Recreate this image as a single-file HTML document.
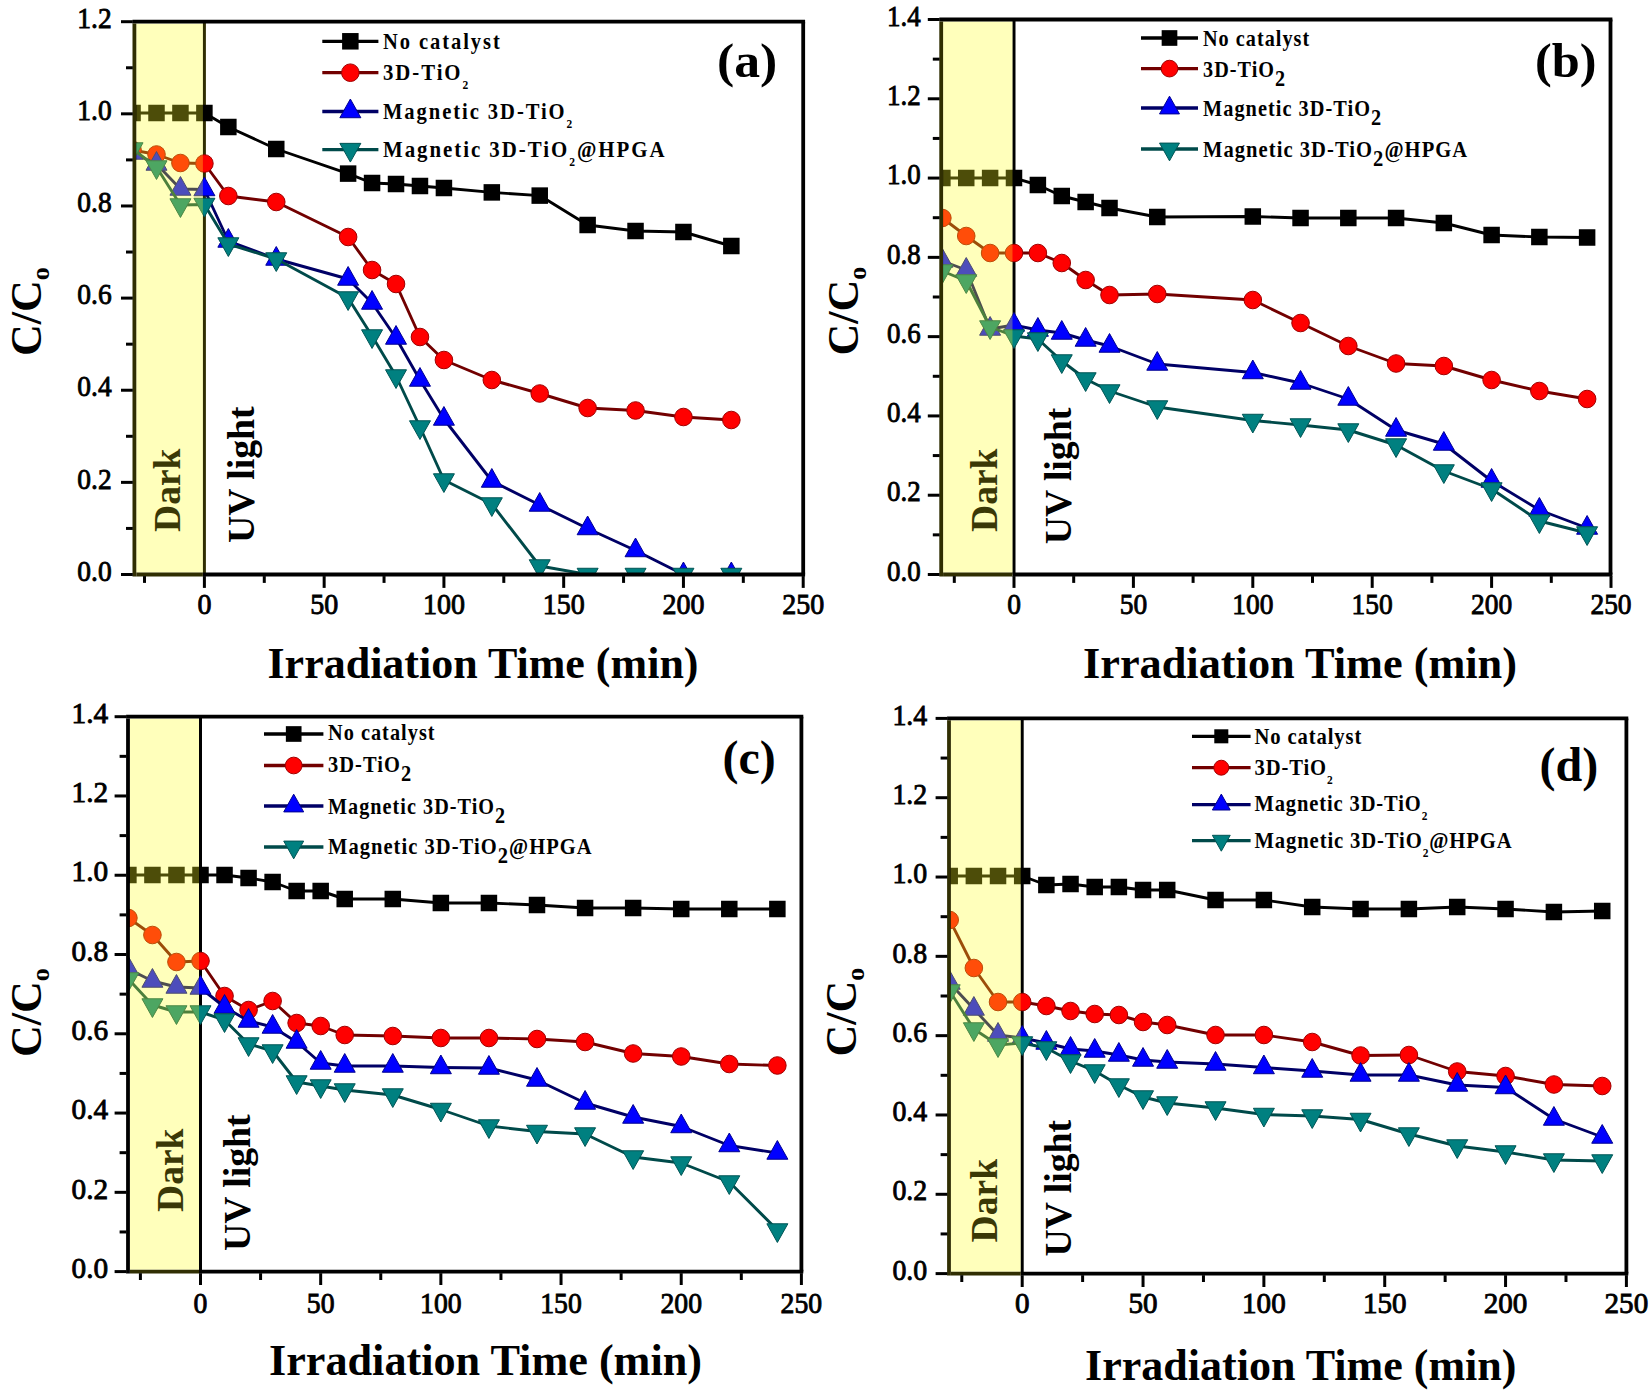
<!DOCTYPE html>
<html><head><meta charset="utf-8"><title>Photocatalytic degradation C/C0 vs irradiation time</title>
<style>html,body{margin:0;padding:0;background:#fff;}svg{display:block;}</style>
</head><body>
<svg width="1650" height="1394" viewBox="0 0 1650 1394">
<rect width="1650" height="1394" fill="#fff"/>
<clipPath id="clipa"><rect x="134.4" y="21.7" width="668.8" height="552.8"/></clipPath>
<line x1="204.4" y1="21.7" x2="204.4" y2="574.5" stroke="rgb(48,46,2)" stroke-width="3"/>
<g clip-path="url(#clipa)">
<polyline points="132.54,113 156.5,113 180.45,113 204.4,113 228.35,127 276.26,149 348.11,173.6 372.06,183 396.02,184 419.97,186 443.92,188 491.82,192.4 539.73,195.6 587.63,225 635.54,231 683.44,232 731.34,246" fill="none" stroke="#000000" stroke-width="2.9" stroke-linejoin="round"/>
<rect x="124.29" y="104.75" width="16.5" height="16.5" fill="#000000"/>
<rect x="148.25" y="104.75" width="16.5" height="16.5" fill="#000000"/>
<rect x="172.2" y="104.75" width="16.5" height="16.5" fill="#000000"/>
<rect x="196.15" y="104.75" width="16.5" height="16.5" fill="#000000"/>
<rect x="220.1" y="118.75" width="16.5" height="16.5" fill="#000000"/>
<rect x="268.01" y="140.75" width="16.5" height="16.5" fill="#000000"/>
<rect x="339.86" y="165.35" width="16.5" height="16.5" fill="#000000"/>
<rect x="363.81" y="174.75" width="16.5" height="16.5" fill="#000000"/>
<rect x="387.77" y="175.75" width="16.5" height="16.5" fill="#000000"/>
<rect x="411.72" y="177.75" width="16.5" height="16.5" fill="#000000"/>
<rect x="435.67" y="179.75" width="16.5" height="16.5" fill="#000000"/>
<rect x="483.57" y="184.15" width="16.5" height="16.5" fill="#000000"/>
<rect x="531.48" y="187.35" width="16.5" height="16.5" fill="#000000"/>
<rect x="579.38" y="216.75" width="16.5" height="16.5" fill="#000000"/>
<rect x="627.29" y="222.75" width="16.5" height="16.5" fill="#000000"/>
<rect x="675.19" y="223.75" width="16.5" height="16.5" fill="#000000"/>
<rect x="723.09" y="237.75" width="16.5" height="16.5" fill="#000000"/>
<polyline points="132.54,150 156.5,154.5 180.45,163 204.4,163.5 228.35,196 276.26,202 348.11,237 372.06,270 396.02,284 419.97,337 443.92,360 491.82,380 539.73,393.5 587.63,408 635.54,410.5 683.44,417 731.34,420" fill="none" stroke="#720000" stroke-width="2.9" stroke-linejoin="round"/>
<circle cx="132.54" cy="150" r="8.8" fill="#ff0000" stroke="#a00000" stroke-width="1"/>
<circle cx="156.5" cy="154.5" r="8.8" fill="#ff0000" stroke="#a00000" stroke-width="1"/>
<circle cx="180.45" cy="163" r="8.8" fill="#ff0000" stroke="#a00000" stroke-width="1"/>
<circle cx="204.4" cy="163.5" r="8.8" fill="#ff0000" stroke="#a00000" stroke-width="1"/>
<circle cx="228.35" cy="196" r="8.8" fill="#ff0000" stroke="#a00000" stroke-width="1"/>
<circle cx="276.26" cy="202" r="8.8" fill="#ff0000" stroke="#a00000" stroke-width="1"/>
<circle cx="348.11" cy="237" r="8.8" fill="#ff0000" stroke="#a00000" stroke-width="1"/>
<circle cx="372.06" cy="270" r="8.8" fill="#ff0000" stroke="#a00000" stroke-width="1"/>
<circle cx="396.02" cy="284" r="8.8" fill="#ff0000" stroke="#a00000" stroke-width="1"/>
<circle cx="419.97" cy="337" r="8.8" fill="#ff0000" stroke="#a00000" stroke-width="1"/>
<circle cx="443.92" cy="360" r="8.8" fill="#ff0000" stroke="#a00000" stroke-width="1"/>
<circle cx="491.82" cy="380" r="8.8" fill="#ff0000" stroke="#a00000" stroke-width="1"/>
<circle cx="539.73" cy="393.5" r="8.8" fill="#ff0000" stroke="#a00000" stroke-width="1"/>
<circle cx="587.63" cy="408" r="8.8" fill="#ff0000" stroke="#a00000" stroke-width="1"/>
<circle cx="635.54" cy="410.5" r="8.8" fill="#ff0000" stroke="#a00000" stroke-width="1"/>
<circle cx="683.44" cy="417" r="8.8" fill="#ff0000" stroke="#a00000" stroke-width="1"/>
<circle cx="731.34" cy="420" r="8.8" fill="#ff0000" stroke="#a00000" stroke-width="1"/>
<polyline points="132.54,153 156.5,164 180.45,189 204.4,189.5 228.35,241 276.26,259 348.11,279 372.06,303 396.02,338 419.97,380 443.92,419 491.82,481 539.73,505 587.63,528.5 635.54,550.5 683.44,574.5 731.34,574.5" fill="none" stroke="#000066" stroke-width="2.9" stroke-linejoin="round"/>
<polygon points="132.54,140.53 143.04,159.23 122.04,159.23" fill="#0000ff" stroke="#000090" stroke-width="1"/>
<polygon points="156.5,151.53 167,170.23 146,170.23" fill="#0000ff" stroke="#000090" stroke-width="1"/>
<polygon points="180.45,176.53 190.95,195.23 169.95,195.23" fill="#0000ff" stroke="#000090" stroke-width="1"/>
<polygon points="204.4,177.03 214.9,195.73 193.9,195.73" fill="#0000ff" stroke="#000090" stroke-width="1"/>
<polygon points="228.35,228.53 238.85,247.23 217.85,247.23" fill="#0000ff" stroke="#000090" stroke-width="1"/>
<polygon points="276.26,246.53 286.76,265.23 265.76,265.23" fill="#0000ff" stroke="#000090" stroke-width="1"/>
<polygon points="348.11,266.53 358.61,285.23 337.61,285.23" fill="#0000ff" stroke="#000090" stroke-width="1"/>
<polygon points="372.06,290.53 382.56,309.23 361.56,309.23" fill="#0000ff" stroke="#000090" stroke-width="1"/>
<polygon points="396.02,325.53 406.52,344.23 385.52,344.23" fill="#0000ff" stroke="#000090" stroke-width="1"/>
<polygon points="419.97,367.53 430.47,386.23 409.47,386.23" fill="#0000ff" stroke="#000090" stroke-width="1"/>
<polygon points="443.92,406.53 454.42,425.23 433.42,425.23" fill="#0000ff" stroke="#000090" stroke-width="1"/>
<polygon points="491.82,468.53 502.32,487.23 481.32,487.23" fill="#0000ff" stroke="#000090" stroke-width="1"/>
<polygon points="539.73,492.53 550.23,511.23 529.23,511.23" fill="#0000ff" stroke="#000090" stroke-width="1"/>
<polygon points="587.63,516.03 598.13,534.73 577.13,534.73" fill="#0000ff" stroke="#000090" stroke-width="1"/>
<polygon points="635.54,538.03 646.04,556.73 625.04,556.73" fill="#0000ff" stroke="#000090" stroke-width="1"/>
<polygon points="683.44,562.03 693.94,580.73 672.94,580.73" fill="#0000ff" stroke="#000090" stroke-width="1"/>
<polygon points="731.34,562.03 741.84,580.73 720.84,580.73" fill="#0000ff" stroke="#000090" stroke-width="1"/>
<polyline points="132.54,149 156.5,167 180.45,205 204.4,204.5 228.35,244 276.26,259 348.11,298 372.06,336 396.02,376 419.97,427 443.92,480 491.82,504 539.73,566 587.63,574.5 635.54,574.5 683.44,574.5 731.34,574.5" fill="none" stroke="#004a4a" stroke-width="2.9" stroke-linejoin="round"/>
<polygon points="122.04,142.77 143.04,142.77 132.54,161.47" fill="#008080" stroke="#005555" stroke-width="1"/>
<polygon points="146,160.77 167,160.77 156.5,179.47" fill="#008080" stroke="#005555" stroke-width="1"/>
<polygon points="169.95,198.77 190.95,198.77 180.45,217.47" fill="#008080" stroke="#005555" stroke-width="1"/>
<polygon points="193.9,198.27 214.9,198.27 204.4,216.97" fill="#008080" stroke="#005555" stroke-width="1"/>
<polygon points="217.85,237.77 238.85,237.77 228.35,256.47" fill="#008080" stroke="#005555" stroke-width="1"/>
<polygon points="265.76,252.77 286.76,252.77 276.26,271.47" fill="#008080" stroke="#005555" stroke-width="1"/>
<polygon points="337.61,291.77 358.61,291.77 348.11,310.47" fill="#008080" stroke="#005555" stroke-width="1"/>
<polygon points="361.56,329.77 382.56,329.77 372.06,348.47" fill="#008080" stroke="#005555" stroke-width="1"/>
<polygon points="385.52,369.77 406.52,369.77 396.02,388.47" fill="#008080" stroke="#005555" stroke-width="1"/>
<polygon points="409.47,420.77 430.47,420.77 419.97,439.47" fill="#008080" stroke="#005555" stroke-width="1"/>
<polygon points="433.42,473.77 454.42,473.77 443.92,492.47" fill="#008080" stroke="#005555" stroke-width="1"/>
<polygon points="481.32,497.77 502.32,497.77 491.82,516.47" fill="#008080" stroke="#005555" stroke-width="1"/>
<polygon points="529.23,559.77 550.23,559.77 539.73,578.47" fill="#008080" stroke="#005555" stroke-width="1"/>
<polygon points="577.13,568.27 598.13,568.27 587.63,586.97" fill="#008080" stroke="#005555" stroke-width="1"/>
<polygon points="625.04,568.27 646.04,568.27 635.54,586.97" fill="#008080" stroke="#005555" stroke-width="1"/>
<polygon points="672.94,568.27 693.94,568.27 683.44,586.97" fill="#008080" stroke="#005555" stroke-width="1"/>
<polygon points="720.84,568.27 741.84,568.27 731.34,586.97" fill="#008080" stroke="#005555" stroke-width="1"/>
</g>
<rect x="136.3" y="23.6" width="66.6" height="549" fill="rgb(255,255,30)" fill-opacity="0.30"/>
<g stroke-width="3.8">
<line x1="132.5" y1="21.7" x2="805.1" y2="21.7" stroke="#000"/>
<line x1="803.2" y1="21.7" x2="803.2" y2="574.5" stroke="#000"/>
<line x1="202.9" y1="574.5" x2="805.1" y2="574.5" stroke="#000"/>
<line x1="136.3" y1="574.5" x2="202.9" y2="574.5" stroke="rgb(48,46,2)"/>
<line x1="134.4" y1="23.6" x2="134.4" y2="576.4" stroke="rgb(48,46,2)"/>
</g>
<text transform="translate(180,532) rotate(-90)" font-family='"Liberation Serif", "Times New Roman", serif' font-weight="bold" font-size="38" fill="rgb(58,56,6)" textLength="83.5" lengthAdjust="spacingAndGlyphs">Dark</text>
<g stroke="#000" stroke-width="3.0"><line x1="121" y1="574.5" x2="132.8" y2="574.5"/><line x1="126" y1="528.43" x2="132.8" y2="528.43"/><line x1="121" y1="482.37" x2="132.8" y2="482.37"/><line x1="126" y1="436.3" x2="132.8" y2="436.3"/><line x1="121" y1="390.23" x2="132.8" y2="390.23"/><line x1="126" y1="344.17" x2="132.8" y2="344.17"/><line x1="121" y1="298.1" x2="132.8" y2="298.1"/><line x1="126" y1="252.03" x2="132.8" y2="252.03"/><line x1="121" y1="205.97" x2="132.8" y2="205.97"/><line x1="126" y1="159.9" x2="132.8" y2="159.9"/><line x1="121" y1="113.83" x2="132.8" y2="113.83"/><line x1="126" y1="67.77" x2="132.8" y2="67.77"/><line x1="121" y1="21.7" x2="132.8" y2="21.7"/><line x1="144.52" y1="576.1" x2="144.52" y2="582.9"/><line x1="204.4" y1="576.1" x2="204.4" y2="587.9"/><line x1="264.28" y1="576.1" x2="264.28" y2="582.9"/><line x1="324.16" y1="576.1" x2="324.16" y2="587.9"/><line x1="384.04" y1="576.1" x2="384.04" y2="582.9"/><line x1="443.92" y1="576.1" x2="443.92" y2="587.9"/><line x1="503.8" y1="576.1" x2="503.8" y2="582.9"/><line x1="563.68" y1="576.1" x2="563.68" y2="587.9"/><line x1="623.56" y1="576.1" x2="623.56" y2="582.9"/><line x1="683.44" y1="576.1" x2="683.44" y2="587.9"/><line x1="743.32" y1="576.1" x2="743.32" y2="582.9"/><line x1="803.2" y1="576.1" x2="803.2" y2="587.9"/></g>
<g font-family='"Liberation Serif", "Times New Roman", serif' font-size="30" fill="#000" stroke="#000" stroke-width="0.9"><text x="111.6" y="580.7" text-anchor="end" textLength="34.3" lengthAdjust="spacingAndGlyphs">0.0</text><text x="111.6" y="488.57" text-anchor="end" textLength="34.3" lengthAdjust="spacingAndGlyphs">0.2</text><text x="111.6" y="396.43" text-anchor="end" textLength="34.3" lengthAdjust="spacingAndGlyphs">0.4</text><text x="111.6" y="304.3" text-anchor="end" textLength="34.3" lengthAdjust="spacingAndGlyphs">0.6</text><text x="111.6" y="212.17" text-anchor="end" textLength="34.3" lengthAdjust="spacingAndGlyphs">0.8</text><text x="111.6" y="120.03" text-anchor="end" textLength="34.3" lengthAdjust="spacingAndGlyphs">1.0</text><text x="111.6" y="27.9" text-anchor="end" textLength="34.3" lengthAdjust="spacingAndGlyphs">1.2</text><text x="204.4" y="613.8" text-anchor="middle" textLength="14" lengthAdjust="spacingAndGlyphs">0</text><text x="324.16" y="613.8" text-anchor="middle" textLength="28" lengthAdjust="spacingAndGlyphs">50</text><text x="443.92" y="613.8" text-anchor="middle" textLength="42" lengthAdjust="spacingAndGlyphs">100</text><text x="563.68" y="613.8" text-anchor="middle" textLength="42" lengthAdjust="spacingAndGlyphs">150</text><text x="683.44" y="613.8" text-anchor="middle" textLength="42" lengthAdjust="spacingAndGlyphs">200</text><text x="803.2" y="613.8" text-anchor="middle" textLength="42" lengthAdjust="spacingAndGlyphs">250</text></g>
<clipPath id="clipb"><rect x="941.2" y="19.5" width="669.3" height="555"/></clipPath>
<line x1="1014" y1="19.5" x2="1014" y2="574.5" stroke="#000" stroke-width="3"/>
<g clip-path="url(#clipb)">
<polyline points="942.36,178 966.24,178 990.12,178 1014,178 1037.88,185 1061.76,196 1085.64,202 1109.52,208 1157.28,217 1252.8,216.5 1300.56,218 1348.32,218 1396.08,218 1443.84,223 1491.6,235 1539.36,237 1587.12,237.5" fill="none" stroke="#000000" stroke-width="2.9" stroke-linejoin="round"/>
<rect x="934.11" y="169.75" width="16.5" height="16.5" fill="#000000"/>
<rect x="957.99" y="169.75" width="16.5" height="16.5" fill="#000000"/>
<rect x="981.87" y="169.75" width="16.5" height="16.5" fill="#000000"/>
<rect x="1005.75" y="169.75" width="16.5" height="16.5" fill="#000000"/>
<rect x="1029.63" y="176.75" width="16.5" height="16.5" fill="#000000"/>
<rect x="1053.51" y="187.75" width="16.5" height="16.5" fill="#000000"/>
<rect x="1077.39" y="193.75" width="16.5" height="16.5" fill="#000000"/>
<rect x="1101.27" y="199.75" width="16.5" height="16.5" fill="#000000"/>
<rect x="1149.03" y="208.75" width="16.5" height="16.5" fill="#000000"/>
<rect x="1244.55" y="208.25" width="16.5" height="16.5" fill="#000000"/>
<rect x="1292.31" y="209.75" width="16.5" height="16.5" fill="#000000"/>
<rect x="1340.07" y="209.75" width="16.5" height="16.5" fill="#000000"/>
<rect x="1387.83" y="209.75" width="16.5" height="16.5" fill="#000000"/>
<rect x="1435.59" y="214.75" width="16.5" height="16.5" fill="#000000"/>
<rect x="1483.35" y="226.75" width="16.5" height="16.5" fill="#000000"/>
<rect x="1531.11" y="228.75" width="16.5" height="16.5" fill="#000000"/>
<rect x="1578.87" y="229.25" width="16.5" height="16.5" fill="#000000"/>
<polyline points="942.36,218 966.24,236 990.12,253 1014,253 1037.88,253 1061.76,263 1085.64,280 1109.52,295 1157.28,294 1252.8,300 1300.56,323 1348.32,346 1396.08,363.5 1443.84,366 1491.6,380 1539.36,391 1587.12,399" fill="none" stroke="#720000" stroke-width="2.9" stroke-linejoin="round"/>
<circle cx="942.36" cy="218" r="8.8" fill="#ff0000" stroke="#a00000" stroke-width="1"/>
<circle cx="966.24" cy="236" r="8.8" fill="#ff0000" stroke="#a00000" stroke-width="1"/>
<circle cx="990.12" cy="253" r="8.8" fill="#ff0000" stroke="#a00000" stroke-width="1"/>
<circle cx="1014" cy="253" r="8.8" fill="#ff0000" stroke="#a00000" stroke-width="1"/>
<circle cx="1037.88" cy="253" r="8.8" fill="#ff0000" stroke="#a00000" stroke-width="1"/>
<circle cx="1061.76" cy="263" r="8.8" fill="#ff0000" stroke="#a00000" stroke-width="1"/>
<circle cx="1085.64" cy="280" r="8.8" fill="#ff0000" stroke="#a00000" stroke-width="1"/>
<circle cx="1109.52" cy="295" r="8.8" fill="#ff0000" stroke="#a00000" stroke-width="1"/>
<circle cx="1157.28" cy="294" r="8.8" fill="#ff0000" stroke="#a00000" stroke-width="1"/>
<circle cx="1252.8" cy="300" r="8.8" fill="#ff0000" stroke="#a00000" stroke-width="1"/>
<circle cx="1300.56" cy="323" r="8.8" fill="#ff0000" stroke="#a00000" stroke-width="1"/>
<circle cx="1348.32" cy="346" r="8.8" fill="#ff0000" stroke="#a00000" stroke-width="1"/>
<circle cx="1396.08" cy="363.5" r="8.8" fill="#ff0000" stroke="#a00000" stroke-width="1"/>
<circle cx="1443.84" cy="366" r="8.8" fill="#ff0000" stroke="#a00000" stroke-width="1"/>
<circle cx="1491.6" cy="380" r="8.8" fill="#ff0000" stroke="#a00000" stroke-width="1"/>
<circle cx="1539.36" cy="391" r="8.8" fill="#ff0000" stroke="#a00000" stroke-width="1"/>
<circle cx="1587.12" cy="399" r="8.8" fill="#ff0000" stroke="#a00000" stroke-width="1"/>
<polyline points="942.36,261 966.24,270 990.12,329 1014,325 1037.88,330 1061.76,333 1085.64,340 1109.52,346 1157.28,364 1252.8,372.5 1300.56,383 1348.32,399 1396.08,430 1443.84,444 1491.6,481 1539.36,510 1587.12,528" fill="none" stroke="#000066" stroke-width="2.9" stroke-linejoin="round"/>
<polygon points="942.36,248.53 952.86,267.23 931.86,267.23" fill="#0000ff" stroke="#000090" stroke-width="1"/>
<polygon points="966.24,257.53 976.74,276.23 955.74,276.23" fill="#0000ff" stroke="#000090" stroke-width="1"/>
<polygon points="990.12,316.53 1000.62,335.23 979.62,335.23" fill="#0000ff" stroke="#000090" stroke-width="1"/>
<polygon points="1014,312.53 1024.5,331.23 1003.5,331.23" fill="#0000ff" stroke="#000090" stroke-width="1"/>
<polygon points="1037.88,317.53 1048.38,336.23 1027.38,336.23" fill="#0000ff" stroke="#000090" stroke-width="1"/>
<polygon points="1061.76,320.53 1072.26,339.23 1051.26,339.23" fill="#0000ff" stroke="#000090" stroke-width="1"/>
<polygon points="1085.64,327.53 1096.14,346.23 1075.14,346.23" fill="#0000ff" stroke="#000090" stroke-width="1"/>
<polygon points="1109.52,333.53 1120.02,352.23 1099.02,352.23" fill="#0000ff" stroke="#000090" stroke-width="1"/>
<polygon points="1157.28,351.53 1167.78,370.23 1146.78,370.23" fill="#0000ff" stroke="#000090" stroke-width="1"/>
<polygon points="1252.8,360.03 1263.3,378.73 1242.3,378.73" fill="#0000ff" stroke="#000090" stroke-width="1"/>
<polygon points="1300.56,370.53 1311.06,389.23 1290.06,389.23" fill="#0000ff" stroke="#000090" stroke-width="1"/>
<polygon points="1348.32,386.53 1358.82,405.23 1337.82,405.23" fill="#0000ff" stroke="#000090" stroke-width="1"/>
<polygon points="1396.08,417.53 1406.58,436.23 1385.58,436.23" fill="#0000ff" stroke="#000090" stroke-width="1"/>
<polygon points="1443.84,431.53 1454.34,450.23 1433.34,450.23" fill="#0000ff" stroke="#000090" stroke-width="1"/>
<polygon points="1491.6,468.53 1502.1,487.23 1481.1,487.23" fill="#0000ff" stroke="#000090" stroke-width="1"/>
<polygon points="1539.36,497.53 1549.86,516.23 1528.86,516.23" fill="#0000ff" stroke="#000090" stroke-width="1"/>
<polygon points="1587.12,515.53 1597.62,534.23 1576.62,534.23" fill="#0000ff" stroke="#000090" stroke-width="1"/>
<polyline points="942.36,271 966.24,281 990.12,327 1014,336 1037.88,339 1061.76,361 1085.64,379 1109.52,391 1157.28,407 1252.8,420.5 1300.56,425 1348.32,430 1396.08,445 1443.84,471 1491.6,489 1539.36,521 1587.12,533" fill="none" stroke="#004a4a" stroke-width="2.9" stroke-linejoin="round"/>
<polygon points="931.86,264.77 952.86,264.77 942.36,283.47" fill="#008080" stroke="#005555" stroke-width="1"/>
<polygon points="955.74,274.77 976.74,274.77 966.24,293.47" fill="#008080" stroke="#005555" stroke-width="1"/>
<polygon points="979.62,320.77 1000.62,320.77 990.12,339.47" fill="#008080" stroke="#005555" stroke-width="1"/>
<polygon points="1003.5,329.77 1024.5,329.77 1014,348.47" fill="#008080" stroke="#005555" stroke-width="1"/>
<polygon points="1027.38,332.77 1048.38,332.77 1037.88,351.47" fill="#008080" stroke="#005555" stroke-width="1"/>
<polygon points="1051.26,354.77 1072.26,354.77 1061.76,373.47" fill="#008080" stroke="#005555" stroke-width="1"/>
<polygon points="1075.14,372.77 1096.14,372.77 1085.64,391.47" fill="#008080" stroke="#005555" stroke-width="1"/>
<polygon points="1099.02,384.77 1120.02,384.77 1109.52,403.47" fill="#008080" stroke="#005555" stroke-width="1"/>
<polygon points="1146.78,400.77 1167.78,400.77 1157.28,419.47" fill="#008080" stroke="#005555" stroke-width="1"/>
<polygon points="1242.3,414.27 1263.3,414.27 1252.8,432.97" fill="#008080" stroke="#005555" stroke-width="1"/>
<polygon points="1290.06,418.77 1311.06,418.77 1300.56,437.47" fill="#008080" stroke="#005555" stroke-width="1"/>
<polygon points="1337.82,423.77 1358.82,423.77 1348.32,442.47" fill="#008080" stroke="#005555" stroke-width="1"/>
<polygon points="1385.58,438.77 1406.58,438.77 1396.08,457.47" fill="#008080" stroke="#005555" stroke-width="1"/>
<polygon points="1433.34,464.77 1454.34,464.77 1443.84,483.47" fill="#008080" stroke="#005555" stroke-width="1"/>
<polygon points="1481.1,482.77 1502.1,482.77 1491.6,501.47" fill="#008080" stroke="#005555" stroke-width="1"/>
<polygon points="1528.86,514.77 1549.86,514.77 1539.36,533.47" fill="#008080" stroke="#005555" stroke-width="1"/>
<polygon points="1576.62,526.77 1597.62,526.77 1587.12,545.47" fill="#008080" stroke="#005555" stroke-width="1"/>
</g>
<rect x="943.1" y="21.4" width="69.4" height="551.2" fill="rgb(255,255,30)" fill-opacity="0.30"/>
<g stroke-width="3.8">
<line x1="939.3" y1="19.5" x2="1612.4" y2="19.5" stroke="#000"/>
<line x1="1610.5" y1="19.5" x2="1610.5" y2="574.5" stroke="#000"/>
<line x1="1012.5" y1="574.5" x2="1612.4" y2="574.5" stroke="#000"/>
<line x1="943.1" y1="574.5" x2="1012.5" y2="574.5" stroke="rgb(48,46,2)"/>
<line x1="941.2" y1="21.4" x2="941.2" y2="576.4" stroke="rgb(48,46,2)"/>
</g>
<text transform="translate(996.7,532) rotate(-90)" font-family='"Liberation Serif", "Times New Roman", serif' font-weight="bold" font-size="38" fill="rgb(58,56,6)" textLength="83.5" lengthAdjust="spacingAndGlyphs">Dark</text>
<g stroke="#000" stroke-width="3.0"><line x1="927.8" y1="574.5" x2="939.6" y2="574.5"/><line x1="932.8" y1="534.86" x2="939.6" y2="534.86"/><line x1="927.8" y1="495.21" x2="939.6" y2="495.21"/><line x1="932.8" y1="455.57" x2="939.6" y2="455.57"/><line x1="927.8" y1="415.93" x2="939.6" y2="415.93"/><line x1="932.8" y1="376.29" x2="939.6" y2="376.29"/><line x1="927.8" y1="336.64" x2="939.6" y2="336.64"/><line x1="932.8" y1="297" x2="939.6" y2="297"/><line x1="927.8" y1="257.36" x2="939.6" y2="257.36"/><line x1="932.8" y1="217.71" x2="939.6" y2="217.71"/><line x1="927.8" y1="178.07" x2="939.6" y2="178.07"/><line x1="932.8" y1="138.43" x2="939.6" y2="138.43"/><line x1="927.8" y1="98.79" x2="939.6" y2="98.79"/><line x1="932.8" y1="59.14" x2="939.6" y2="59.14"/><line x1="927.8" y1="19.5" x2="939.6" y2="19.5"/><line x1="954.3" y1="576.1" x2="954.3" y2="582.9"/><line x1="1014" y1="576.1" x2="1014" y2="587.9"/><line x1="1073.7" y1="576.1" x2="1073.7" y2="582.9"/><line x1="1133.4" y1="576.1" x2="1133.4" y2="587.9"/><line x1="1193.1" y1="576.1" x2="1193.1" y2="582.9"/><line x1="1252.8" y1="576.1" x2="1252.8" y2="587.9"/><line x1="1312.5" y1="576.1" x2="1312.5" y2="582.9"/><line x1="1372.2" y1="576.1" x2="1372.2" y2="587.9"/><line x1="1431.9" y1="576.1" x2="1431.9" y2="582.9"/><line x1="1491.6" y1="576.1" x2="1491.6" y2="587.9"/><line x1="1551.3" y1="576.1" x2="1551.3" y2="582.9"/><line x1="1611" y1="576.1" x2="1611" y2="587.9"/></g>
<g font-family='"Liberation Serif", "Times New Roman", serif' font-size="30" fill="#000" stroke="#000" stroke-width="0.9"><text x="920.6" y="580.7" text-anchor="end" textLength="33.6" lengthAdjust="spacingAndGlyphs">0.0</text><text x="920.6" y="501.41" text-anchor="end" textLength="33.6" lengthAdjust="spacingAndGlyphs">0.2</text><text x="920.6" y="422.13" text-anchor="end" textLength="33.6" lengthAdjust="spacingAndGlyphs">0.4</text><text x="920.6" y="342.84" text-anchor="end" textLength="33.6" lengthAdjust="spacingAndGlyphs">0.6</text><text x="920.6" y="263.56" text-anchor="end" textLength="33.6" lengthAdjust="spacingAndGlyphs">0.8</text><text x="920.6" y="184.27" text-anchor="end" textLength="33.6" lengthAdjust="spacingAndGlyphs">1.0</text><text x="920.6" y="104.99" text-anchor="end" textLength="33.6" lengthAdjust="spacingAndGlyphs">1.2</text><text x="920.6" y="25.7" text-anchor="end" textLength="33.6" lengthAdjust="spacingAndGlyphs">1.4</text><text x="1014" y="614" text-anchor="middle" textLength="13.73" lengthAdjust="spacingAndGlyphs">0</text><text x="1133.4" y="614" text-anchor="middle" textLength="27.45" lengthAdjust="spacingAndGlyphs">50</text><text x="1252.8" y="614" text-anchor="middle" textLength="41.18" lengthAdjust="spacingAndGlyphs">100</text><text x="1372.2" y="614" text-anchor="middle" textLength="41.18" lengthAdjust="spacingAndGlyphs">150</text><text x="1491.6" y="614" text-anchor="middle" textLength="41.18" lengthAdjust="spacingAndGlyphs">200</text><text x="1611" y="614" text-anchor="middle" textLength="41.18" lengthAdjust="spacingAndGlyphs">250</text></g>
<clipPath id="clipc"><rect x="128" y="716.7" width="673.4" height="554.9"/></clipPath>
<line x1="200.5" y1="716.7" x2="200.5" y2="1271.6" stroke="#000" stroke-width="3"/>
<g clip-path="url(#clipc)">
<polyline points="128.39,875 152.43,875 176.46,875 200.5,875 224.54,875 248.57,878 272.61,882 296.64,891 320.68,891 344.72,899 392.79,899 440.86,903 488.93,903 537,905 585.08,908 633.15,908 681.22,909 729.29,909 777.36,909" fill="none" stroke="#000000" stroke-width="2.9" stroke-linejoin="round"/>
<rect x="120.14" y="866.75" width="16.5" height="16.5" fill="#000000"/>
<rect x="144.18" y="866.75" width="16.5" height="16.5" fill="#000000"/>
<rect x="168.21" y="866.75" width="16.5" height="16.5" fill="#000000"/>
<rect x="192.25" y="866.75" width="16.5" height="16.5" fill="#000000"/>
<rect x="216.29" y="866.75" width="16.5" height="16.5" fill="#000000"/>
<rect x="240.32" y="869.75" width="16.5" height="16.5" fill="#000000"/>
<rect x="264.36" y="873.75" width="16.5" height="16.5" fill="#000000"/>
<rect x="288.39" y="882.75" width="16.5" height="16.5" fill="#000000"/>
<rect x="312.43" y="882.75" width="16.5" height="16.5" fill="#000000"/>
<rect x="336.47" y="890.75" width="16.5" height="16.5" fill="#000000"/>
<rect x="384.54" y="890.75" width="16.5" height="16.5" fill="#000000"/>
<rect x="432.61" y="894.75" width="16.5" height="16.5" fill="#000000"/>
<rect x="480.68" y="894.75" width="16.5" height="16.5" fill="#000000"/>
<rect x="528.75" y="896.75" width="16.5" height="16.5" fill="#000000"/>
<rect x="576.83" y="899.75" width="16.5" height="16.5" fill="#000000"/>
<rect x="624.9" y="899.75" width="16.5" height="16.5" fill="#000000"/>
<rect x="672.97" y="900.75" width="16.5" height="16.5" fill="#000000"/>
<rect x="721.04" y="900.75" width="16.5" height="16.5" fill="#000000"/>
<rect x="769.11" y="900.75" width="16.5" height="16.5" fill="#000000"/>
<polyline points="128.39,918 152.43,935 176.46,962 200.5,961 224.54,996 248.57,1010 272.61,1001 296.64,1023 320.68,1026 344.72,1035 392.79,1036 440.86,1038 488.93,1038 537,1039 585.08,1042 633.15,1053.5 681.22,1056.5 729.29,1064 777.36,1065.5" fill="none" stroke="#720000" stroke-width="2.9" stroke-linejoin="round"/>
<circle cx="128.39" cy="918" r="8.8" fill="#ff0000" stroke="#a00000" stroke-width="1"/>
<circle cx="152.43" cy="935" r="8.8" fill="#ff0000" stroke="#a00000" stroke-width="1"/>
<circle cx="176.46" cy="962" r="8.8" fill="#ff0000" stroke="#a00000" stroke-width="1"/>
<circle cx="200.5" cy="961" r="8.8" fill="#ff0000" stroke="#a00000" stroke-width="1"/>
<circle cx="224.54" cy="996" r="8.8" fill="#ff0000" stroke="#a00000" stroke-width="1"/>
<circle cx="248.57" cy="1010" r="8.8" fill="#ff0000" stroke="#a00000" stroke-width="1"/>
<circle cx="272.61" cy="1001" r="8.8" fill="#ff0000" stroke="#a00000" stroke-width="1"/>
<circle cx="296.64" cy="1023" r="8.8" fill="#ff0000" stroke="#a00000" stroke-width="1"/>
<circle cx="320.68" cy="1026" r="8.8" fill="#ff0000" stroke="#a00000" stroke-width="1"/>
<circle cx="344.72" cy="1035" r="8.8" fill="#ff0000" stroke="#a00000" stroke-width="1"/>
<circle cx="392.79" cy="1036" r="8.8" fill="#ff0000" stroke="#a00000" stroke-width="1"/>
<circle cx="440.86" cy="1038" r="8.8" fill="#ff0000" stroke="#a00000" stroke-width="1"/>
<circle cx="488.93" cy="1038" r="8.8" fill="#ff0000" stroke="#a00000" stroke-width="1"/>
<circle cx="537" cy="1039" r="8.8" fill="#ff0000" stroke="#a00000" stroke-width="1"/>
<circle cx="585.08" cy="1042" r="8.8" fill="#ff0000" stroke="#a00000" stroke-width="1"/>
<circle cx="633.15" cy="1053.5" r="8.8" fill="#ff0000" stroke="#a00000" stroke-width="1"/>
<circle cx="681.22" cy="1056.5" r="8.8" fill="#ff0000" stroke="#a00000" stroke-width="1"/>
<circle cx="729.29" cy="1064" r="8.8" fill="#ff0000" stroke="#a00000" stroke-width="1"/>
<circle cx="777.36" cy="1065.5" r="8.8" fill="#ff0000" stroke="#a00000" stroke-width="1"/>
<polyline points="128.39,969 152.43,981 176.46,987 200.5,988 224.54,1007 248.57,1021 272.61,1027 296.64,1042 320.68,1063 344.72,1066 392.79,1066 440.86,1067.5 488.93,1068 537,1080 585.08,1103 633.15,1117 681.22,1126.5 729.29,1145.5 777.36,1153" fill="none" stroke="#000066" stroke-width="2.9" stroke-linejoin="round"/>
<polygon points="128.39,956.53 138.89,975.23 117.89,975.23" fill="#0000ff" stroke="#000090" stroke-width="1"/>
<polygon points="152.43,968.53 162.93,987.23 141.93,987.23" fill="#0000ff" stroke="#000090" stroke-width="1"/>
<polygon points="176.46,974.53 186.96,993.23 165.96,993.23" fill="#0000ff" stroke="#000090" stroke-width="1"/>
<polygon points="200.5,975.53 211,994.23 190,994.23" fill="#0000ff" stroke="#000090" stroke-width="1"/>
<polygon points="224.54,994.53 235.04,1013.23 214.04,1013.23" fill="#0000ff" stroke="#000090" stroke-width="1"/>
<polygon points="248.57,1008.53 259.07,1027.23 238.07,1027.23" fill="#0000ff" stroke="#000090" stroke-width="1"/>
<polygon points="272.61,1014.53 283.11,1033.23 262.11,1033.23" fill="#0000ff" stroke="#000090" stroke-width="1"/>
<polygon points="296.64,1029.53 307.14,1048.23 286.14,1048.23" fill="#0000ff" stroke="#000090" stroke-width="1"/>
<polygon points="320.68,1050.53 331.18,1069.23 310.18,1069.23" fill="#0000ff" stroke="#000090" stroke-width="1"/>
<polygon points="344.72,1053.53 355.22,1072.23 334.22,1072.23" fill="#0000ff" stroke="#000090" stroke-width="1"/>
<polygon points="392.79,1053.53 403.29,1072.23 382.29,1072.23" fill="#0000ff" stroke="#000090" stroke-width="1"/>
<polygon points="440.86,1055.03 451.36,1073.73 430.36,1073.73" fill="#0000ff" stroke="#000090" stroke-width="1"/>
<polygon points="488.93,1055.53 499.43,1074.23 478.43,1074.23" fill="#0000ff" stroke="#000090" stroke-width="1"/>
<polygon points="537,1067.53 547.5,1086.23 526.5,1086.23" fill="#0000ff" stroke="#000090" stroke-width="1"/>
<polygon points="585.08,1090.53 595.58,1109.23 574.58,1109.23" fill="#0000ff" stroke="#000090" stroke-width="1"/>
<polygon points="633.15,1104.53 643.65,1123.23 622.65,1123.23" fill="#0000ff" stroke="#000090" stroke-width="1"/>
<polygon points="681.22,1114.03 691.72,1132.73 670.72,1132.73" fill="#0000ff" stroke="#000090" stroke-width="1"/>
<polygon points="729.29,1133.03 739.79,1151.73 718.79,1151.73" fill="#0000ff" stroke="#000090" stroke-width="1"/>
<polygon points="777.36,1140.53 787.86,1159.23 766.86,1159.23" fill="#0000ff" stroke="#000090" stroke-width="1"/>
<polyline points="128.39,979 152.43,1005 176.46,1012 200.5,1012 224.54,1020 248.57,1044 272.61,1051 296.64,1082 320.68,1086 344.72,1090 392.79,1095 440.86,1109.5 488.93,1126 537,1131.5 585.08,1134 633.15,1157 681.22,1163 729.29,1182 777.36,1230" fill="none" stroke="#004a4a" stroke-width="2.9" stroke-linejoin="round"/>
<polygon points="117.89,972.77 138.89,972.77 128.39,991.47" fill="#008080" stroke="#005555" stroke-width="1"/>
<polygon points="141.93,998.77 162.93,998.77 152.43,1017.47" fill="#008080" stroke="#005555" stroke-width="1"/>
<polygon points="165.96,1005.77 186.96,1005.77 176.46,1024.47" fill="#008080" stroke="#005555" stroke-width="1"/>
<polygon points="190,1005.77 211,1005.77 200.5,1024.47" fill="#008080" stroke="#005555" stroke-width="1"/>
<polygon points="214.04,1013.77 235.04,1013.77 224.54,1032.47" fill="#008080" stroke="#005555" stroke-width="1"/>
<polygon points="238.07,1037.77 259.07,1037.77 248.57,1056.47" fill="#008080" stroke="#005555" stroke-width="1"/>
<polygon points="262.11,1044.77 283.11,1044.77 272.61,1063.47" fill="#008080" stroke="#005555" stroke-width="1"/>
<polygon points="286.14,1075.77 307.14,1075.77 296.64,1094.47" fill="#008080" stroke="#005555" stroke-width="1"/>
<polygon points="310.18,1079.77 331.18,1079.77 320.68,1098.47" fill="#008080" stroke="#005555" stroke-width="1"/>
<polygon points="334.22,1083.77 355.22,1083.77 344.72,1102.47" fill="#008080" stroke="#005555" stroke-width="1"/>
<polygon points="382.29,1088.77 403.29,1088.77 392.79,1107.47" fill="#008080" stroke="#005555" stroke-width="1"/>
<polygon points="430.36,1103.27 451.36,1103.27 440.86,1121.97" fill="#008080" stroke="#005555" stroke-width="1"/>
<polygon points="478.43,1119.77 499.43,1119.77 488.93,1138.47" fill="#008080" stroke="#005555" stroke-width="1"/>
<polygon points="526.5,1125.27 547.5,1125.27 537,1143.97" fill="#008080" stroke="#005555" stroke-width="1"/>
<polygon points="574.58,1127.77 595.58,1127.77 585.08,1146.47" fill="#008080" stroke="#005555" stroke-width="1"/>
<polygon points="622.65,1150.77 643.65,1150.77 633.15,1169.47" fill="#008080" stroke="#005555" stroke-width="1"/>
<polygon points="670.72,1156.77 691.72,1156.77 681.22,1175.47" fill="#008080" stroke="#005555" stroke-width="1"/>
<polygon points="718.79,1175.77 739.79,1175.77 729.29,1194.47" fill="#008080" stroke="#005555" stroke-width="1"/>
<polygon points="766.86,1223.77 787.86,1223.77 777.36,1242.47" fill="#008080" stroke="#005555" stroke-width="1"/>
</g>
<rect x="129.9" y="718.6" width="69.1" height="551.1" fill="rgb(255,255,30)" fill-opacity="0.30"/>
<g stroke-width="3.8">
<line x1="126.1" y1="716.7" x2="803.3" y2="716.7" stroke="#000"/>
<line x1="801.4" y1="716.7" x2="801.4" y2="1271.6" stroke="#000"/>
<line x1="199" y1="1271.6" x2="803.3" y2="1271.6" stroke="#000"/>
<line x1="129.9" y1="1271.6" x2="199" y2="1271.6" stroke="rgb(48,46,2)"/>
<line x1="128" y1="718.6" x2="128" y2="1273.5" stroke="#000"/>
</g>
<text transform="translate(183.4,1212) rotate(-90)" font-family='"Liberation Serif", "Times New Roman", serif' font-weight="bold" font-size="38" fill="rgb(58,56,6)" textLength="83.5" lengthAdjust="spacingAndGlyphs">Dark</text>
<g stroke="#000" stroke-width="3.0"><line x1="114.6" y1="1271.6" x2="126.4" y2="1271.6"/><line x1="119.6" y1="1231.96" x2="126.4" y2="1231.96"/><line x1="114.6" y1="1192.33" x2="126.4" y2="1192.33"/><line x1="119.6" y1="1152.69" x2="126.4" y2="1152.69"/><line x1="114.6" y1="1113.06" x2="126.4" y2="1113.06"/><line x1="119.6" y1="1073.42" x2="126.4" y2="1073.42"/><line x1="114.6" y1="1033.79" x2="126.4" y2="1033.79"/><line x1="119.6" y1="994.15" x2="126.4" y2="994.15"/><line x1="114.6" y1="954.51" x2="126.4" y2="954.51"/><line x1="119.6" y1="914.88" x2="126.4" y2="914.88"/><line x1="114.6" y1="875.24" x2="126.4" y2="875.24"/><line x1="119.6" y1="835.61" x2="126.4" y2="835.61"/><line x1="114.6" y1="795.97" x2="126.4" y2="795.97"/><line x1="119.6" y1="756.34" x2="126.4" y2="756.34"/><line x1="114.6" y1="716.7" x2="126.4" y2="716.7"/><line x1="140.41" y1="1273.2" x2="140.41" y2="1280"/><line x1="200.5" y1="1273.2" x2="200.5" y2="1285"/><line x1="260.59" y1="1273.2" x2="260.59" y2="1280"/><line x1="320.68" y1="1273.2" x2="320.68" y2="1285"/><line x1="380.77" y1="1273.2" x2="380.77" y2="1280"/><line x1="440.86" y1="1273.2" x2="440.86" y2="1285"/><line x1="500.95" y1="1273.2" x2="500.95" y2="1280"/><line x1="561.04" y1="1273.2" x2="561.04" y2="1285"/><line x1="621.13" y1="1273.2" x2="621.13" y2="1280"/><line x1="681.22" y1="1273.2" x2="681.22" y2="1285"/><line x1="741.31" y1="1273.2" x2="741.31" y2="1280"/><line x1="801.4" y1="1273.2" x2="801.4" y2="1285"/></g>
<g font-family='"Liberation Serif", "Times New Roman", serif' font-size="30" fill="#000" stroke="#000" stroke-width="0.9"><text x="108.2" y="1277.8" text-anchor="end" textLength="36.6" lengthAdjust="spacingAndGlyphs">0.0</text><text x="108.2" y="1198.53" text-anchor="end" textLength="36.6" lengthAdjust="spacingAndGlyphs">0.2</text><text x="108.2" y="1119.26" text-anchor="end" textLength="36.6" lengthAdjust="spacingAndGlyphs">0.4</text><text x="108.2" y="1039.99" text-anchor="end" textLength="36.6" lengthAdjust="spacingAndGlyphs">0.6</text><text x="108.2" y="960.71" text-anchor="end" textLength="36.6" lengthAdjust="spacingAndGlyphs">0.8</text><text x="108.2" y="881.44" text-anchor="end" textLength="36.6" lengthAdjust="spacingAndGlyphs">1.0</text><text x="108.2" y="802.17" text-anchor="end" textLength="36.6" lengthAdjust="spacingAndGlyphs">1.2</text><text x="108.2" y="722.9" text-anchor="end" textLength="36.6" lengthAdjust="spacingAndGlyphs">1.4</text><text x="200.5" y="1312.7" text-anchor="middle" textLength="13.86" lengthAdjust="spacingAndGlyphs">0</text><text x="320.68" y="1312.7" text-anchor="middle" textLength="27.72" lengthAdjust="spacingAndGlyphs">50</text><text x="440.86" y="1312.7" text-anchor="middle" textLength="41.59" lengthAdjust="spacingAndGlyphs">100</text><text x="561.04" y="1312.7" text-anchor="middle" textLength="41.59" lengthAdjust="spacingAndGlyphs">150</text><text x="681.22" y="1312.7" text-anchor="middle" textLength="41.59" lengthAdjust="spacingAndGlyphs">200</text><text x="801.4" y="1312.7" text-anchor="middle" textLength="41.59" lengthAdjust="spacingAndGlyphs">250</text></g>
<clipPath id="clipd"><rect x="949" y="718.4" width="677.4" height="555.2"/></clipPath>
<line x1="1022.2" y1="718.4" x2="1022.2" y2="1273.6" stroke="#000" stroke-width="3"/>
<g clip-path="url(#clipd)">
<polyline points="949.7,876 973.86,876 998.03,876 1022.2,876 1046.37,885 1070.54,884 1094.7,887 1118.87,887 1143.04,890 1167.21,890 1215.54,900 1263.88,900 1312.22,907 1360.55,909 1408.89,909 1457.22,907 1505.56,909 1553.9,912 1602.23,911" fill="none" stroke="#000000" stroke-width="2.9" stroke-linejoin="round"/>
<rect x="941.45" y="867.75" width="16.5" height="16.5" fill="#000000"/>
<rect x="965.61" y="867.75" width="16.5" height="16.5" fill="#000000"/>
<rect x="989.78" y="867.75" width="16.5" height="16.5" fill="#000000"/>
<rect x="1013.95" y="867.75" width="16.5" height="16.5" fill="#000000"/>
<rect x="1038.12" y="876.75" width="16.5" height="16.5" fill="#000000"/>
<rect x="1062.29" y="875.75" width="16.5" height="16.5" fill="#000000"/>
<rect x="1086.45" y="878.75" width="16.5" height="16.5" fill="#000000"/>
<rect x="1110.62" y="878.75" width="16.5" height="16.5" fill="#000000"/>
<rect x="1134.79" y="881.75" width="16.5" height="16.5" fill="#000000"/>
<rect x="1158.96" y="881.75" width="16.5" height="16.5" fill="#000000"/>
<rect x="1207.29" y="891.75" width="16.5" height="16.5" fill="#000000"/>
<rect x="1255.63" y="891.75" width="16.5" height="16.5" fill="#000000"/>
<rect x="1303.97" y="898.75" width="16.5" height="16.5" fill="#000000"/>
<rect x="1352.3" y="900.75" width="16.5" height="16.5" fill="#000000"/>
<rect x="1400.64" y="900.75" width="16.5" height="16.5" fill="#000000"/>
<rect x="1448.97" y="898.75" width="16.5" height="16.5" fill="#000000"/>
<rect x="1497.31" y="900.75" width="16.5" height="16.5" fill="#000000"/>
<rect x="1545.65" y="903.75" width="16.5" height="16.5" fill="#000000"/>
<rect x="1593.98" y="902.75" width="16.5" height="16.5" fill="#000000"/>
<polyline points="949.7,920 973.86,968 998.03,1002 1022.2,1002 1046.37,1006 1070.54,1011 1094.7,1014 1118.87,1015 1143.04,1022 1167.21,1025 1215.54,1035 1263.88,1035 1312.22,1042 1360.55,1055.5 1408.89,1055 1457.22,1071.5 1505.56,1076 1553.9,1084.5 1602.23,1086" fill="none" stroke="#720000" stroke-width="2.9" stroke-linejoin="round"/>
<circle cx="949.7" cy="920" r="8.8" fill="#ff0000" stroke="#a00000" stroke-width="1"/>
<circle cx="973.86" cy="968" r="8.8" fill="#ff0000" stroke="#a00000" stroke-width="1"/>
<circle cx="998.03" cy="1002" r="8.8" fill="#ff0000" stroke="#a00000" stroke-width="1"/>
<circle cx="1022.2" cy="1002" r="8.8" fill="#ff0000" stroke="#a00000" stroke-width="1"/>
<circle cx="1046.37" cy="1006" r="8.8" fill="#ff0000" stroke="#a00000" stroke-width="1"/>
<circle cx="1070.54" cy="1011" r="8.8" fill="#ff0000" stroke="#a00000" stroke-width="1"/>
<circle cx="1094.7" cy="1014" r="8.8" fill="#ff0000" stroke="#a00000" stroke-width="1"/>
<circle cx="1118.87" cy="1015" r="8.8" fill="#ff0000" stroke="#a00000" stroke-width="1"/>
<circle cx="1143.04" cy="1022" r="8.8" fill="#ff0000" stroke="#a00000" stroke-width="1"/>
<circle cx="1167.21" cy="1025" r="8.8" fill="#ff0000" stroke="#a00000" stroke-width="1"/>
<circle cx="1215.54" cy="1035" r="8.8" fill="#ff0000" stroke="#a00000" stroke-width="1"/>
<circle cx="1263.88" cy="1035" r="8.8" fill="#ff0000" stroke="#a00000" stroke-width="1"/>
<circle cx="1312.22" cy="1042" r="8.8" fill="#ff0000" stroke="#a00000" stroke-width="1"/>
<circle cx="1360.55" cy="1055.5" r="8.8" fill="#ff0000" stroke="#a00000" stroke-width="1"/>
<circle cx="1408.89" cy="1055" r="8.8" fill="#ff0000" stroke="#a00000" stroke-width="1"/>
<circle cx="1457.22" cy="1071.5" r="8.8" fill="#ff0000" stroke="#a00000" stroke-width="1"/>
<circle cx="1505.56" cy="1076" r="8.8" fill="#ff0000" stroke="#a00000" stroke-width="1"/>
<circle cx="1553.9" cy="1084.5" r="8.8" fill="#ff0000" stroke="#a00000" stroke-width="1"/>
<circle cx="1602.23" cy="1086" r="8.8" fill="#ff0000" stroke="#a00000" stroke-width="1"/>
<polyline points="949.7,983 973.86,1009 998.03,1035 1022.2,1038 1046.37,1043 1070.54,1049 1094.7,1051 1118.87,1055 1143.04,1060 1167.21,1062 1215.54,1064 1263.88,1067.5 1312.22,1071 1360.55,1075 1408.89,1075 1457.22,1085 1505.56,1087.5 1553.9,1119 1602.23,1137" fill="none" stroke="#000066" stroke-width="2.9" stroke-linejoin="round"/>
<polygon points="949.7,970.53 960.2,989.23 939.2,989.23" fill="#0000ff" stroke="#000090" stroke-width="1"/>
<polygon points="973.86,996.53 984.36,1015.23 963.36,1015.23" fill="#0000ff" stroke="#000090" stroke-width="1"/>
<polygon points="998.03,1022.53 1008.53,1041.23 987.53,1041.23" fill="#0000ff" stroke="#000090" stroke-width="1"/>
<polygon points="1022.2,1025.53 1032.7,1044.23 1011.7,1044.23" fill="#0000ff" stroke="#000090" stroke-width="1"/>
<polygon points="1046.37,1030.53 1056.87,1049.23 1035.87,1049.23" fill="#0000ff" stroke="#000090" stroke-width="1"/>
<polygon points="1070.54,1036.53 1081.04,1055.23 1060.04,1055.23" fill="#0000ff" stroke="#000090" stroke-width="1"/>
<polygon points="1094.7,1038.53 1105.2,1057.23 1084.2,1057.23" fill="#0000ff" stroke="#000090" stroke-width="1"/>
<polygon points="1118.87,1042.53 1129.37,1061.23 1108.37,1061.23" fill="#0000ff" stroke="#000090" stroke-width="1"/>
<polygon points="1143.04,1047.53 1153.54,1066.23 1132.54,1066.23" fill="#0000ff" stroke="#000090" stroke-width="1"/>
<polygon points="1167.21,1049.53 1177.71,1068.23 1156.71,1068.23" fill="#0000ff" stroke="#000090" stroke-width="1"/>
<polygon points="1215.54,1051.53 1226.04,1070.23 1205.04,1070.23" fill="#0000ff" stroke="#000090" stroke-width="1"/>
<polygon points="1263.88,1055.03 1274.38,1073.73 1253.38,1073.73" fill="#0000ff" stroke="#000090" stroke-width="1"/>
<polygon points="1312.22,1058.53 1322.72,1077.23 1301.72,1077.23" fill="#0000ff" stroke="#000090" stroke-width="1"/>
<polygon points="1360.55,1062.53 1371.05,1081.23 1350.05,1081.23" fill="#0000ff" stroke="#000090" stroke-width="1"/>
<polygon points="1408.89,1062.53 1419.39,1081.23 1398.39,1081.23" fill="#0000ff" stroke="#000090" stroke-width="1"/>
<polygon points="1457.22,1072.53 1467.72,1091.23 1446.72,1091.23" fill="#0000ff" stroke="#000090" stroke-width="1"/>
<polygon points="1505.56,1075.03 1516.06,1093.73 1495.06,1093.73" fill="#0000ff" stroke="#000090" stroke-width="1"/>
<polygon points="1553.9,1106.53 1564.4,1125.23 1543.4,1125.23" fill="#0000ff" stroke="#000090" stroke-width="1"/>
<polygon points="1602.23,1124.53 1612.73,1143.23 1591.73,1143.23" fill="#0000ff" stroke="#000090" stroke-width="1"/>
<polyline points="949.7,991 973.86,1029 998.03,1045 1022.2,1043 1046.37,1048 1070.54,1061 1094.7,1071 1118.87,1085 1143.04,1097 1167.21,1103 1215.54,1108 1263.88,1114.5 1312.22,1116 1360.55,1119.5 1408.89,1134 1457.22,1146 1505.56,1152 1553.9,1160 1602.23,1161" fill="none" stroke="#004a4a" stroke-width="2.9" stroke-linejoin="round"/>
<polygon points="939.2,984.77 960.2,984.77 949.7,1003.47" fill="#008080" stroke="#005555" stroke-width="1"/>
<polygon points="963.36,1022.77 984.36,1022.77 973.86,1041.47" fill="#008080" stroke="#005555" stroke-width="1"/>
<polygon points="987.53,1038.77 1008.53,1038.77 998.03,1057.47" fill="#008080" stroke="#005555" stroke-width="1"/>
<polygon points="1011.7,1036.77 1032.7,1036.77 1022.2,1055.47" fill="#008080" stroke="#005555" stroke-width="1"/>
<polygon points="1035.87,1041.77 1056.87,1041.77 1046.37,1060.47" fill="#008080" stroke="#005555" stroke-width="1"/>
<polygon points="1060.04,1054.77 1081.04,1054.77 1070.54,1073.47" fill="#008080" stroke="#005555" stroke-width="1"/>
<polygon points="1084.2,1064.77 1105.2,1064.77 1094.7,1083.47" fill="#008080" stroke="#005555" stroke-width="1"/>
<polygon points="1108.37,1078.77 1129.37,1078.77 1118.87,1097.47" fill="#008080" stroke="#005555" stroke-width="1"/>
<polygon points="1132.54,1090.77 1153.54,1090.77 1143.04,1109.47" fill="#008080" stroke="#005555" stroke-width="1"/>
<polygon points="1156.71,1096.77 1177.71,1096.77 1167.21,1115.47" fill="#008080" stroke="#005555" stroke-width="1"/>
<polygon points="1205.04,1101.77 1226.04,1101.77 1215.54,1120.47" fill="#008080" stroke="#005555" stroke-width="1"/>
<polygon points="1253.38,1108.27 1274.38,1108.27 1263.88,1126.97" fill="#008080" stroke="#005555" stroke-width="1"/>
<polygon points="1301.72,1109.77 1322.72,1109.77 1312.22,1128.47" fill="#008080" stroke="#005555" stroke-width="1"/>
<polygon points="1350.05,1113.27 1371.05,1113.27 1360.55,1131.97" fill="#008080" stroke="#005555" stroke-width="1"/>
<polygon points="1398.39,1127.77 1419.39,1127.77 1408.89,1146.47" fill="#008080" stroke="#005555" stroke-width="1"/>
<polygon points="1446.72,1139.77 1467.72,1139.77 1457.22,1158.47" fill="#008080" stroke="#005555" stroke-width="1"/>
<polygon points="1495.06,1145.77 1516.06,1145.77 1505.56,1164.47" fill="#008080" stroke="#005555" stroke-width="1"/>
<polygon points="1543.4,1153.77 1564.4,1153.77 1553.9,1172.47" fill="#008080" stroke="#005555" stroke-width="1"/>
<polygon points="1591.73,1154.77 1612.73,1154.77 1602.23,1173.47" fill="#008080" stroke="#005555" stroke-width="1"/>
</g>
<rect x="950.9" y="720.3" width="69.8" height="551.4" fill="rgb(255,255,30)" fill-opacity="0.30"/>
<g stroke-width="3.8">
<line x1="947.1" y1="718.4" x2="1628.3" y2="718.4" stroke="#000"/>
<line x1="1626.4" y1="718.4" x2="1626.4" y2="1273.6" stroke="#000"/>
<line x1="1020.7" y1="1273.6" x2="1628.3" y2="1273.6" stroke="#000"/>
<line x1="950.9" y1="1273.6" x2="1020.7" y2="1273.6" stroke="rgb(48,46,2)"/>
<line x1="949" y1="720.3" x2="949" y2="1275.5" stroke="rgb(48,46,2)"/>
</g>
<text transform="translate(996.7,1242.4) rotate(-90)" font-family='"Liberation Serif", "Times New Roman", serif' font-weight="bold" font-size="38" fill="rgb(58,56,6)" textLength="83.5" lengthAdjust="spacingAndGlyphs">Dark</text>
<g stroke="#000" stroke-width="3.0"><line x1="935.6" y1="1273.6" x2="947.4" y2="1273.6"/><line x1="940.6" y1="1233.94" x2="947.4" y2="1233.94"/><line x1="935.6" y1="1194.29" x2="947.4" y2="1194.29"/><line x1="940.6" y1="1154.63" x2="947.4" y2="1154.63"/><line x1="935.6" y1="1114.97" x2="947.4" y2="1114.97"/><line x1="940.6" y1="1075.31" x2="947.4" y2="1075.31"/><line x1="935.6" y1="1035.66" x2="947.4" y2="1035.66"/><line x1="940.6" y1="996" x2="947.4" y2="996"/><line x1="935.6" y1="956.34" x2="947.4" y2="956.34"/><line x1="940.6" y1="916.69" x2="947.4" y2="916.69"/><line x1="935.6" y1="877.03" x2="947.4" y2="877.03"/><line x1="940.6" y1="837.37" x2="947.4" y2="837.37"/><line x1="935.6" y1="797.71" x2="947.4" y2="797.71"/><line x1="940.6" y1="758.06" x2="947.4" y2="758.06"/><line x1="935.6" y1="718.4" x2="947.4" y2="718.4"/><line x1="961.78" y1="1275.2" x2="961.78" y2="1282"/><line x1="1022.2" y1="1275.2" x2="1022.2" y2="1287"/><line x1="1082.62" y1="1275.2" x2="1082.62" y2="1282"/><line x1="1143.04" y1="1275.2" x2="1143.04" y2="1287"/><line x1="1203.46" y1="1275.2" x2="1203.46" y2="1282"/><line x1="1263.88" y1="1275.2" x2="1263.88" y2="1287"/><line x1="1324.3" y1="1275.2" x2="1324.3" y2="1282"/><line x1="1384.72" y1="1275.2" x2="1384.72" y2="1287"/><line x1="1445.14" y1="1275.2" x2="1445.14" y2="1282"/><line x1="1505.56" y1="1275.2" x2="1505.56" y2="1287"/><line x1="1565.98" y1="1275.2" x2="1565.98" y2="1282"/><line x1="1626.4" y1="1275.2" x2="1626.4" y2="1287"/></g>
<g font-family='"Liberation Serif", "Times New Roman", serif' font-size="30" fill="#000" stroke="#000" stroke-width="0.9"><text x="927.2" y="1279.8" text-anchor="end" textLength="34.8" lengthAdjust="spacingAndGlyphs">0.0</text><text x="927.2" y="1200.49" text-anchor="end" textLength="34.8" lengthAdjust="spacingAndGlyphs">0.2</text><text x="927.2" y="1121.17" text-anchor="end" textLength="34.8" lengthAdjust="spacingAndGlyphs">0.4</text><text x="927.2" y="1041.86" text-anchor="end" textLength="34.8" lengthAdjust="spacingAndGlyphs">0.6</text><text x="927.2" y="962.54" text-anchor="end" textLength="34.8" lengthAdjust="spacingAndGlyphs">0.8</text><text x="927.2" y="883.23" text-anchor="end" textLength="34.8" lengthAdjust="spacingAndGlyphs">1.0</text><text x="927.2" y="803.91" text-anchor="end" textLength="34.8" lengthAdjust="spacingAndGlyphs">1.2</text><text x="927.2" y="724.6" text-anchor="end" textLength="34.8" lengthAdjust="spacingAndGlyphs">1.4</text><text x="1022.2" y="1312.7" text-anchor="middle" textLength="14.55" lengthAdjust="spacingAndGlyphs">0</text><text x="1143.04" y="1312.7" text-anchor="middle" textLength="29.1" lengthAdjust="spacingAndGlyphs">50</text><text x="1263.88" y="1312.7" text-anchor="middle" textLength="43.65" lengthAdjust="spacingAndGlyphs">100</text><text x="1384.72" y="1312.7" text-anchor="middle" textLength="43.65" lengthAdjust="spacingAndGlyphs">150</text><text x="1505.56" y="1312.7" text-anchor="middle" textLength="43.65" lengthAdjust="spacingAndGlyphs">200</text><text x="1626.4" y="1312.7" text-anchor="middle" textLength="43.65" lengthAdjust="spacingAndGlyphs">250</text></g>
<g font-family='"Liberation Serif", "Times New Roman", serif' font-weight="bold" font-size="23.5" fill="#000"><line x1="322.3" y1="41.3" x2="378.4" y2="41.3" stroke="#000000" stroke-width="3.3"/>
<rect x="342.1" y="33.05" width="16.5" height="16.5" fill="#000000"/>
<line x1="322.3" y1="72.7" x2="378.4" y2="72.7" stroke="#720000" stroke-width="3.3"/>
<circle cx="350.35" cy="72.7" r="8.8" fill="#ff0000" stroke="#a00000" stroke-width="1"/>
<line x1="322.3" y1="111.5" x2="378.4" y2="111.5" stroke="#000066" stroke-width="3.3"/>
<polygon points="350.35,99.03 360.85,117.73 339.85,117.73" fill="#0000ff" stroke="#000090" stroke-width="1"/>
<line x1="322.3" y1="149.6" x2="378.4" y2="149.6" stroke="#004a4a" stroke-width="3.3"/>
<polygon points="339.85,143.37 360.85,143.37 350.35,162.07" fill="#008080" stroke="#005555" stroke-width="1"/>
<text x="383" y="48.7" letter-spacing="2.2" textLength="118.7" lengthAdjust="spacingAndGlyphs">No catalyst</text>
<text x="383" y="80" letter-spacing="2.2" textLength="87.2" lengthAdjust="spacingAndGlyphs">3D-TiO<tspan font-size="13" dy="9">2</tspan></text>
<text x="383" y="118.7" letter-spacing="2.2" textLength="191.2" lengthAdjust="spacingAndGlyphs">Magnetic 3D-TiO<tspan font-size="13" dy="9">2</tspan></text>
<text x="383" y="156.8" letter-spacing="2.2" textLength="283.5" lengthAdjust="spacingAndGlyphs">Magnetic 3D-TiO<tspan font-size="13" dy="9">2</tspan><tspan dy="-9">@HPGA</tspan></text></g>
<g font-family='"Liberation Serif", "Times New Roman", serif' font-weight="bold" font-size="23.5" fill="#000"><line x1="1141" y1="38" x2="1198" y2="38" stroke="#000000" stroke-width="3.3"/>
<rect x="1161.66" y="30.16" width="15.67" height="15.67" fill="#000000"/>
<line x1="1141" y1="68.6" x2="1198" y2="68.6" stroke="#720000" stroke-width="3.3"/>
<circle cx="1169.5" cy="68.6" r="8.36" fill="#ff0000" stroke="#a00000" stroke-width="1"/>
<line x1="1141" y1="108" x2="1198" y2="108" stroke="#000066" stroke-width="3.3"/>
<polygon points="1169.5,96.16 1179.47,113.92 1159.53,113.92" fill="#0000ff" stroke="#000090" stroke-width="1"/>
<line x1="1141" y1="149" x2="1198" y2="149" stroke="#004a4a" stroke-width="3.3"/>
<polygon points="1159.53,143.08 1179.47,143.08 1169.5,160.84" fill="#008080" stroke="#005555" stroke-width="1"/>
<text x="1203" y="45.6" letter-spacing="1.2" textLength="107.2" lengthAdjust="spacingAndGlyphs">No catalyst</text>
<text x="1203" y="77" letter-spacing="1.2" textLength="83.2" lengthAdjust="spacingAndGlyphs">3D-TiO<tspan dy="9">2</tspan></text>
<text x="1203" y="116" letter-spacing="1.2" textLength="179.2" lengthAdjust="spacingAndGlyphs">Magnetic 3D-TiO<tspan dy="9">2</tspan></text>
<text x="1203" y="157" letter-spacing="1.2" textLength="265.2" lengthAdjust="spacingAndGlyphs">Magnetic 3D-TiO<tspan dy="9">2</tspan><tspan dy="-9">@HPGA</tspan></text></g>
<g font-family='"Liberation Serif", "Times New Roman", serif' font-weight="bold" font-size="23.5" fill="#000"><line x1="264" y1="734" x2="323.4" y2="734" stroke="#000000" stroke-width="3.3"/>
<rect x="285.86" y="726.16" width="15.67" height="15.67" fill="#000000"/>
<line x1="264" y1="765.5" x2="323.4" y2="765.5" stroke="#720000" stroke-width="3.3"/>
<circle cx="293.7" cy="765.5" r="8.36" fill="#ff0000" stroke="#a00000" stroke-width="1"/>
<line x1="264" y1="806" x2="323.4" y2="806" stroke="#000066" stroke-width="3.3"/>
<polygon points="293.7,794.16 303.68,811.92 283.72,811.92" fill="#0000ff" stroke="#000090" stroke-width="1"/>
<line x1="264" y1="847" x2="323.4" y2="847" stroke="#004a4a" stroke-width="3.3"/>
<polygon points="283.72,841.08 303.68,841.08 293.7,858.84" fill="#008080" stroke="#005555" stroke-width="1"/>
<text x="328" y="739.7" letter-spacing="1.2" textLength="107.6" lengthAdjust="spacingAndGlyphs">No catalyst</text>
<text x="328" y="772" letter-spacing="1.2" textLength="84.2" lengthAdjust="spacingAndGlyphs">3D-TiO<tspan dy="9">2</tspan></text>
<text x="328" y="813.7" letter-spacing="1.2" textLength="178.2" lengthAdjust="spacingAndGlyphs">Magnetic 3D-TiO<tspan dy="9">2</tspan></text>
<text x="328" y="854" letter-spacing="1.2" textLength="264.6" lengthAdjust="spacingAndGlyphs">Magnetic 3D-TiO<tspan dy="9">2</tspan><tspan dy="-9">@HPGA</tspan></text></g>
<g font-family='"Liberation Serif", "Times New Roman", serif' font-weight="bold" font-size="23.5" fill="#000"><line x1="1192" y1="736.3" x2="1250.6" y2="736.3" stroke="#000000" stroke-width="3.3"/>
<rect x="1214.29" y="729.29" width="14.03" height="14.03" fill="#000000"/>
<line x1="1192" y1="767.7" x2="1250.6" y2="767.7" stroke="#720000" stroke-width="3.3"/>
<circle cx="1221.3" cy="767.7" r="7.48" fill="#ff0000" stroke="#a00000" stroke-width="1"/>
<line x1="1192" y1="804.7" x2="1250.6" y2="804.7" stroke="#000066" stroke-width="3.3"/>
<polygon points="1221.3,794.1 1230.22,810 1212.38,810" fill="#0000ff" stroke="#000090" stroke-width="1"/>
<line x1="1192" y1="840.6" x2="1250.6" y2="840.6" stroke="#004a4a" stroke-width="3.3"/>
<polygon points="1212.38,835.3 1230.22,835.3 1221.3,851.2" fill="#008080" stroke="#005555" stroke-width="1"/>
<text x="1254.5" y="743.7" letter-spacing="1" textLength="107.7" lengthAdjust="spacingAndGlyphs">No catalyst</text>
<text x="1254.5" y="775" letter-spacing="1" textLength="79" lengthAdjust="spacingAndGlyphs">3D-TiO<tspan font-size="13" dy="9">2</tspan></text>
<text x="1254.5" y="811" letter-spacing="1" textLength="173.7" lengthAdjust="spacingAndGlyphs">Magnetic 3D-TiO<tspan font-size="13" dy="9">2</tspan></text>
<text x="1254.5" y="848.4" letter-spacing="1" textLength="258" lengthAdjust="spacingAndGlyphs">Magnetic 3D-TiO<tspan font-size="13" dy="9">2</tspan><tspan dy="-9">@HPGA</tspan></text></g>
<g font-family='"Liberation Serif", "Times New Roman", serif' font-weight="bold" fill="#000"><text x="267.5" y="678" textLength="431" lengthAdjust="spacingAndGlyphs" font-size="44">Irradiation Time (min)</text>
<text x="1083" y="677.5" textLength="434" lengthAdjust="spacingAndGlyphs" font-size="44">Irradiation Time (min)</text>
<text x="269" y="1375" textLength="433" lengthAdjust="spacingAndGlyphs" font-size="44">Irradiation Time (min)</text>
<text x="1085" y="1379.5" textLength="431.5" lengthAdjust="spacingAndGlyphs" font-size="44">Irradiation Time (min)</text>
<text transform="translate(41.3,356) rotate(-90)" font-size="44">C/C<tspan font-size="26" dy="8">o</tspan></text>
<text transform="translate(857.7,355.5) rotate(-90)" font-size="44">C/C<tspan font-size="26" dy="8">o</tspan></text>
<text transform="translate(40.6,1057) rotate(-90)" font-size="44">C/C<tspan font-size="26" dy="8">o</tspan></text>
<text transform="translate(856.1,1056.5) rotate(-90)" font-size="44">C/C<tspan font-size="26" dy="8">o</tspan></text>
<text x="717" y="77" font-size="48" textLength="60.3" lengthAdjust="spacingAndGlyphs">(a)</text>
<text x="1535" y="76.5" font-size="48" textLength="61.5" lengthAdjust="spacingAndGlyphs">(b)</text>
<text x="722.5" y="773.6" font-size="48" textLength="53.3" lengthAdjust="spacingAndGlyphs">(c)</text>
<text x="1539.5" y="781" font-size="48" textLength="58.7" lengthAdjust="spacingAndGlyphs">(d)</text>
<text transform="translate(253.6,543) rotate(-90)" font-size="38" textLength="136.5" lengthAdjust="spacingAndGlyphs">UV light</text>
<text transform="translate(1070.8,544.3) rotate(-90)" font-size="38" textLength="136.5" lengthAdjust="spacingAndGlyphs">UV light</text>
<text transform="translate(249.5,1251) rotate(-90)" font-size="38" textLength="136.5" lengthAdjust="spacingAndGlyphs">UV light</text>
<text transform="translate(1070.8,1256.5) rotate(-90)" font-size="38" textLength="136.5" lengthAdjust="spacingAndGlyphs">UV light</text></g>
</svg>
</body></html>
